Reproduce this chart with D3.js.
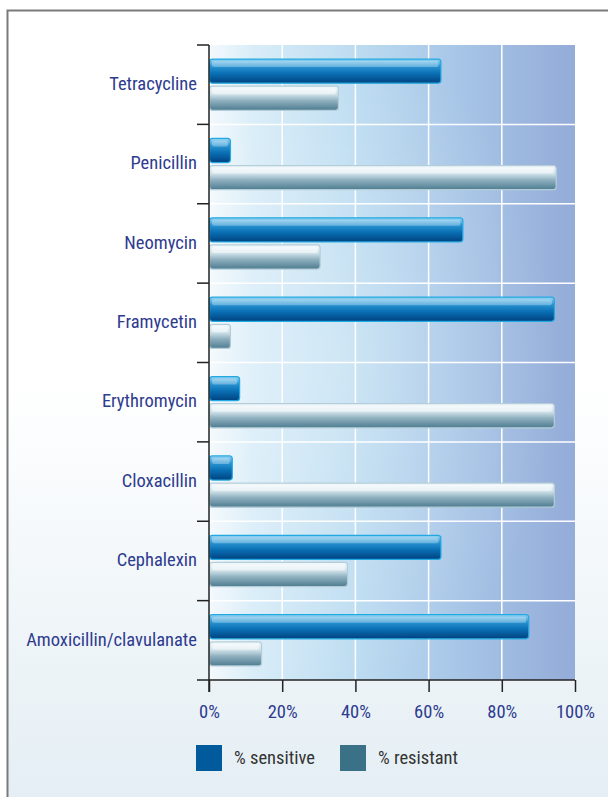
<!DOCTYPE html>
<html>
<head>
<meta charset="utf-8">
<script src="https://cdn.jsdelivr.net/npm/d3@7"></script>
<style>
  body { margin: 0; background: #fff; }
  svg { display: block; }
  .lbl { font-family: "Liberation Sans Narrow", "Roboto Condensed", "DejaVu Sans Condensed", sans-serif; }
</style>
</head>
<body>
<div id="chart"></div>
<script>

let drugs = ["Tetracycline", "Penicillin", "Neomycin", "Framycetin",
  "Erythromycin", "Cloxacillin", "Cephalexin", "Amoxicillin/clavulanate"];

let sensitive = [63.5, 6, 69.5, 94.5, 8.5, 6.5, 63.5, 87.5];
let resistant = [35.5, 95, 30.5, 6, 94.5, 94.5, 38, 14.5];

let series = ["sensitive", "resistant"];
let seriesNames = ["% sensitive", "% resistant"];
let ticks = [0, 20, 40, 60, 80, 100];


let w = 608; let h = 797;
let pLeft = 209; let pRight = 575; let pTop = 45; let pBottom = 680;

let svg = d3.select("#chart").append("svg")
    .attr("width", w)
    .attr("height", h);

let defs = svg.append("defs");

function grad (id, stops, x2, y2) {
  let g = defs.append("linearGradient").attr("id", id)
      .attr("x1", 0).attr("y1", 0).attr("x2", x2).attr("y2", y2);
  for (let s of stops) {
    g.append("stop").attr("offset", s[0]).attr("stop-color", s[1]);
  }
}

grad("frameg", [["0%", "#ffffff"], ["45%", "#ffffff"], ["100%", "#e2edf3"]], 0, 1);
grad("plotg", [["0%", "#f4f9fd"], ["12%", "#d9edf8"], ["40%", "#bcdcf1"], ["70%", "#a6c4e6"], ["100%", "#94acd8"]], 1, 0);
grad("sensg", [["0%", "#9ad6f4"], ["30%", "#2a94d2"], ["60%", "#0a6fb4"], ["100%", "#00427f"]], 0, 1);
grad("resg", [["0%", "#f4fafd"], ["35%", "#cde0e8"], ["60%", "#8fb0bf"], ["100%", "#4d7c90"]], 0, 1);

// outer frame
svg.append("rect")
    .attr("x", 7.5).attr("y", 10.5)
    .attr("width", w + 20).attr("height", h + 20)
    .attr("fill", "url(#frameg)")
    .attr("stroke", "#7a7a7a")
    .attr("stroke-width", 2);


let x = d3.scaleLinear().domain([0, 100]).range([pLeft, pRight]);
let y = d3.scaleBand().domain(drugs).range([pTop, pBottom]);
let ys = d3.scaleBand().domain(series).range([0, y.bandwidth()])
    .paddingInner(0.074).paddingOuter(0.5);

let colors = d3.scaleOrdinal().domain(series).range(["#005a9c", "#3b7186"]);

// plot background
svg.append("rect")
    .attr("x", pLeft).attr("y", pTop)
    .attr("width", pRight - pLeft).attr("height", pBottom - pTop)
    .attr("fill", "url(#plotg)");

// soft lighter glow, like the original
let streak = defs.append("radialGradient").attr("id", "streak")
    .attr("cx", 0.5).attr("cy", 0.5).attr("r", 0.5);
streak.append("stop").attr("offset", "0%").attr("stop-color", "#ffffff").attr("stop-opacity", 0.25);
streak.append("stop").attr("offset", "100%").attr("stop-color", "#ffffff").attr("stop-opacity", 0);
svg.append("ellipse")
    .attr("cx", x(35)).attr("cy", (pTop + pBottom) / 2)
    .attr("rx", 220).attr("ry", 330)
    .attr("fill", "url(#streak)");

// grid
let grid = svg.append("g");
grid.selectAll("line.v").data(ticks.slice(1, -1)).enter().append("line")
    .attr("class", "v")
    .attr("x1", d => x(d)).attr("x2", d => x(d))
    .attr("y1", pTop).attr("y2", pBottom)
    .attr("stroke", "#ffffff").attr("stroke-width", 1.5);

grid.selectAll("line.h").data(drugs.slice(1)).enter().append("line")
    .attr("class", "h")
    .attr("x1", pLeft).attr("x2", pRight)
    .attr("y1", d => y(d)).attr("y2", d => y(d))
    .attr("stroke", "#ffffff").attr("stroke-width", 1.5);


// bars
let rows = drugs.map((d, i) => ({name: d, vals: [sensitive[i], resistant[i]]}));

let rowg = svg.selectAll("g.row").data(rows).enter().append("g")
    .attr("class", "row")
    .attr("transform", d => `translate(0,${y(d.name)})`);

let bars = rowg.selectAll("g.bar")
    .data(d => d.vals.map((v, j) => ({s: series[j], v: v})))
    .enter().append("g")
    .attr("class", "bar");

bars.append("rect")
    .attr("x", x(0) + 0.5)
    .attr("y", d => ys(d.s) + 0.5)
    .attr("width", d => x(d.v) - x(0) - 1)
    .attr("height", ys.bandwidth() - 1)
    .attr("rx", 3)
    .attr("fill", d => d.s == "sensitive" ? "url(#sensg)" : "url(#resg)")
    .attr("stroke", d => d.s == "sensitive" ? "#22a9e1" : "#b4cdd8")
    .attr("stroke-width", 1.2);

// gloss highlight
bars.append("rect")
    .attr("x", x(0) + 3)
    .attr("y", d => ys(d.s) + 2.5)
    .attr("width", d => Math.max(0, x(d.v) - x(0) - 6))
    .attr("height", 6)
    .attr("rx", 2)
    .attr("fill", "#ffffff")
    .attr("opacity", d => d.s == "sensitive" ? 0.3 : 0.5);


// axes
let xAxis = d3.axisBottom(x)
    .tickValues(ticks)
    .tickFormat(d => d + "%")
    .tickSizeInner(12).tickSizeOuter(0).tickPadding(13);

let xg = svg.append("g")
    .attr("transform", `translate(0,${pBottom})`)
    .call(xAxis);
xg.select(".domain").remove();
xg.append("line")
    .attr("x1", pLeft - 12).attr("x2", pRight)
    .attr("stroke", "#222").attr("stroke-width", 1.5);
xg.selectAll(".tick line").attr("stroke", "#222").attr("stroke-width", 1.5);
xg.selectAll(".tick text")
    .attr("class", "lbl")
    .attr("fill", "#2e3b8f")
    .attr("font-size", 18.5);

let yAxis = d3.axisLeft(y).tickSize(0).tickPadding(12);
let yg = svg.append("g")
    .attr("transform", `translate(${pLeft},0)`)
    .call(yAxis);
yg.select(".domain").remove();
yg.append("line")
    .attr("y1", pTop).attr("y2", pBottom + 12)
    .attr("stroke", "#222").attr("stroke-width", 1.5);
yg.selectAll("line.bt").data(drugs).enter().append("line")
    .attr("class", "bt")
    .attr("x1", -12).attr("x2", 0)
    .attr("y1", d => y(d)).attr("y2", d => y(d))
    .attr("stroke", "#222").attr("stroke-width", 1.5);
yg.selectAll(".tick text")
    .attr("class", "lbl")
    .attr("fill", "#2e3b8f")
    .attr("font-size", 18.5)
    .attr("dy", "0.28em");


// legend
let leg = svg.append("g").attr("transform", "translate(196,745)");
let li = leg.selectAll("g").data(series).enter().append("g")
    .attr("transform", (d, i) => `translate(${i * 144},0)`);
li.append("rect")
    .attr("width", 26).attr("height", 26)
    .attr("fill", d => colors(d));
li.append("text")
    .attr("class", "lbl")
    .attr("x", 38).attr("y", 13).attr("dy", "0.35em")
    .attr("fill", "#333333")
    .attr("font-size", 18.5)
    .text((d, i) => seriesNames[i]);

</script>
</body>
</html>
